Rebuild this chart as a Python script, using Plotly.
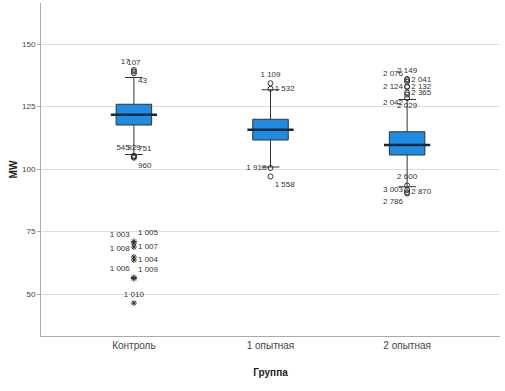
import plotly.graph_objects as go

groups = ["Контроль", "1 опытная", "2 опытная"]
q1 = [117.6, 111.6, 105.6]
median = [121.7, 115.7, 109.6]
q3 = [125.9, 119.9, 114.9]
lower_whisker = [105.8, 100.8, 92.9]
upper_whisker = [136.6, 131.7, 127.8]

# Outliers (circles)
out_group = ["Контроль"] * 7 + ["1 опытная"] * 4 + ["2 опытная"] * 12
out_value = [139.6, 139.0, 138.3, 105.3, 105.1, 104.9, 104.5,
             134.3, 132.1, 100.4, 97.0,
             136.0, 135.6, 134.9, 133.0, 132.8, 130.6, 129.8, 128.4,
             93.4, 91.6, 90.7, 90.2]
out_label = ["17", "107", "43", "545", "929", "751", "960",
             "1 109", "1 532", "1 918", "1 558",
             "2 149", "2 041", "2 076", "2 124", "2 132", "2 365", "2 042", "2 029",
             "2 600", "3 003", "2 870", "2 786"]
out_textpos = ["top left", "top center", "bottom right", "top left", "top center", "top right", "bottom right",
               "top center", "middle right", "middle left", "bottom right",
               "top center", "middle right", "top left", "middle left", "middle right", "middle right", "bottom left", "bottom center",
               "top center", "middle left", "middle right", "bottom left"]

# Extreme values (stars)
ext_group = ["Контроль"] * 8
ext_value = [71.0, 70.4, 68.8, 64.8, 63.6, 56.6, 56.2, 46.4]
ext_label = ["1 005", "1 003", "1 007", "1 008", "1 004", "1 006", "1 009", "1 010"]
ext_textpos = ["top right", "top left", "middle right", "top left", "middle right", "top left", "top right", "top center"]

fig = go.Figure()

fig.add_trace(go.Box(
    x=groups, q1=q1, median=median, q3=q3,
    lowerfence=lower_whisker, upperfence=upper_whisker,
    fillcolor="#1E8CE0", line=dict(color="#333333", width=1),
    width=0.26, whiskerwidth=0.5, boxpoints=False, showlegend=False,
    hoverinfo="skip",
))

fig.add_trace(go.Scatter(
    x=groups, y=median, mode="markers",
    marker=dict(symbol="line-ew", size=33, line=dict(color="#102a43", width=2.5)),
    showlegend=False, hoverinfo="skip",
))

fig.add_trace(go.Scatter(
    x=out_group, y=out_value, mode="markers+text",
    marker=dict(symbol="circle-open", size=5, color="#333333", line=dict(width=1)),
    text=out_label, textposition=out_textpos,
    textfont=dict(family="Liberation Sans, Arial", size=8, color="#333333"),
    showlegend=False, hoverinfo="skip",
))

fig.add_trace(go.Scatter(
    x=ext_group, y=ext_value, mode="markers+text",
    marker=dict(symbol="asterisk-open", size=5, color="#333333", line=dict(width=1, color="#333333")),
    text=ext_label, textposition=ext_textpos,
    textfont=dict(family="Liberation Sans, Arial", size=8, color="#333333"),
    showlegend=False, hoverinfo="skip",
))

fig.update_layout(
    width=505, height=391,
    margin=dict(l=41, r=5, t=3, b=55, autoexpand=False),
    paper_bgcolor="white", plot_bgcolor="white",
    font=dict(family="Liberation Sans, Arial", size=9, color="#333333"),
)
fig.update_xaxes(
    range=[-0.68, 2.68], showgrid=False, showline=True, linecolor="#aaaaaa",
    ticks="", tickfont=dict(size=10, color="#444444"), automargin=False,
    title=dict(text="<b>Группа</b>", font=dict(size=10, color="#222222"), standoff=18),
)
fig.update_yaxes(
    range=[33.2, 166.4], tickvals=[50, 75, 100, 125, 150],
    showgrid=True, gridcolor="#dddddd", gridwidth=1, zeroline=False,
    showline=True, linecolor="#aaaaaa", ticks="outside", ticklen=3, tickcolor="#aaaaaa",
    tickfont=dict(size=8, color="#444444"), automargin=False,
    title=dict(text="<b>MW</b>", font=dict(size=10, color="#222222"), standoff=2),
)

fig.write_html("out.html", config={"displayModeBar": False},
               post_script="document.body.style.margin='0';")
